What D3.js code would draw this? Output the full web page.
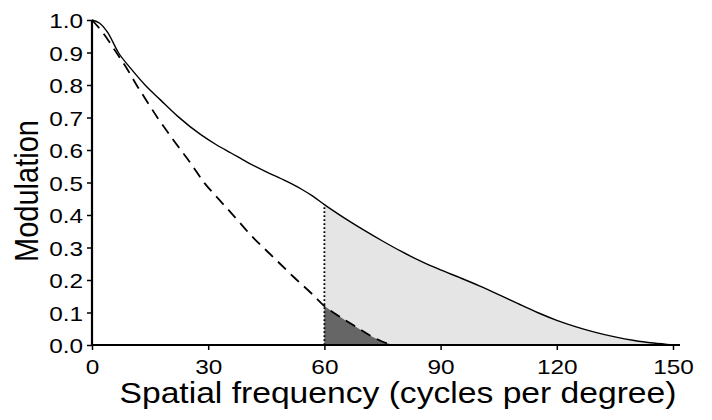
<!DOCTYPE html>
<html><head><meta charset="utf-8">
<script src="https://cdn.jsdelivr.net/npm/d3@7"></script>
<style>
html,body{margin:0;padding:0;background:#fff;}
text{font-family:"Liberation Sans",Arial,Helvetica,sans-serif;fill:#000;}
</style></head>
<body><svg id="c" width="712" height="420"></svg>
<script>
// Data
const solidFreq = [0,2,4,6.8,10,13.7,17.6,22.3,28,32,36,40,45,50,54,57,60,65,70,75,80,85,90,95,100,105,110,115,120,125,130,135,140,145,150];
const solidMod  = [1.0,0.99,0.963,0.9,0.851,0.8,0.755,0.702,0.648,0.617,0.59,0.563,0.533,0.505,0.48,0.458,0.432,0.392,0.355,0.32,0.287,0.257,0.231,0.207,0.182,0.155,0.127,0.1,0.076,0.056,0.039,0.025,0.014,0.006,0.0];
const dashFreq = [0,3,6,9,11.5,13,17,21,25,29,33,37,41,47,52,57,60,64,68,72,76,78,150];
const dashMod  = [1.0,0.958,0.905,0.851,0.8,0.772,0.698,0.631,0.567,0.499,0.445,0.392,0.338,0.268,0.21,0.155,0.12,0.087,0.057,0.028,0.006,0,0];
const cutoff = 60;
const xTicks = [0,30,60,90,120,150];
const yTicks = [0,0.1,0.2,0.3,0.4,0.5,0.6,0.7,0.8,0.9,1.0];
const xTitle = "Spatial frequency (cycles per degree)";
const yTitle = "Modulation";

const SX = 1.16; // horizontal stretch of glyphs
const svg = d3.select("#c");
const x = d3.scaleLinear().domain([0,150]).range([92,673]);
const y = d3.scaleLinear().domain([0,1]).range([345,20]);

const solid = solidFreq.map((f,i)=>({f, m: solidMod[i]}));
const dashed = dashFreq.map((f,i)=>({f, m: dashMod[i]}));

const area = d3.area().x(d=>x(d.f)).y0(y(0)).y1(d=>y(d.m)).curve(d3.curveMonotoneX);
const line = d3.line().x(d=>x(d.f)).y(d=>y(d.m)).curve(d3.curveMonotoneX);

svg.append("path").datum(solid.filter(d=>d.f>=cutoff))
  .attr("d", area).attr("fill","#e5e5e5");
svg.append("path").datum(dashed.filter(d=>d.f>=cutoff && d.f<=78))
  .attr("d", area).attr("fill","#666666");

const sAt = solidMod[solidFreq.indexOf(cutoff)];
svg.append("line").attr("x1",x(cutoff)).attr("x2",x(cutoff))
  .attr("y1",y(0)).attr("y2",y(sAt))
  .attr("stroke","#000").attr("stroke-width",1.8).attr("stroke-dasharray","1.8,2.2");

svg.append("path").datum(solid).attr("d",line)
  .attr("fill","none").attr("stroke","#000").attr("stroke-width",1.4);
svg.append("path").datum(dashed).attr("d",line)
  .attr("fill","none").attr("stroke","#000").attr("stroke-width",1.8)
  .attr("stroke-dasharray","11,7");

// Axes
const xAxis = d3.axisBottom(x).tickValues(xTicks).tickSize(5).tickSizeOuter(0).tickFormat(d3.format("d"));
const gx = svg.append("g").attr("transform",`translate(0,${y(0)})`).call(xAxis);
gx.select(".domain").remove();
gx.selectAll(".tick line").attr("stroke","#000").attr("stroke-width",1.5);
gx.selectAll(".tick text").attr("font-size",21).attr("y",0).attr("dy",0)
  .attr("transform",`translate(0,29) scale(${SX},1)`);
gx.append("line").attr("x1",x(0)-1).attr("x2",680).attr("y1",0).attr("y2",0)
  .attr("stroke","#000").attr("stroke-width",2.2);

const yAxis = d3.axisLeft(y).tickValues(yTicks).tickSize(5).tickSizeOuter(0).tickFormat(d3.format(".1f"));
const gy = svg.append("g").attr("transform",`translate(${x(0)},0)`).call(yAxis);
gy.select(".domain").remove();
gy.selectAll(".tick line").attr("stroke","#000").attr("stroke-width",1.5);
gy.selectAll(".tick text").attr("font-size",21).attr("x",0).attr("dy","0.36em")
  .attr("transform",`translate(-9,0) scale(${SX},1)`);
gy.append("line").attr("x1",0).attr("x2",0).attr("y1",y(1)).attr("y2",y(0)+1)
  .attr("stroke","#000").attr("stroke-width",2.2);

svg.append("text").attr("text-anchor","middle").attr("font-size",29)
  .attr("transform",`translate(398,403) scale(${SX},1)`).text(xTitle);
svg.append("text").attr("text-anchor","middle").attr("font-size",29)
  .attr("transform",`translate(38,191) rotate(-90) scale(1,${SX})`).text(yTitle);
</script></body></html>
